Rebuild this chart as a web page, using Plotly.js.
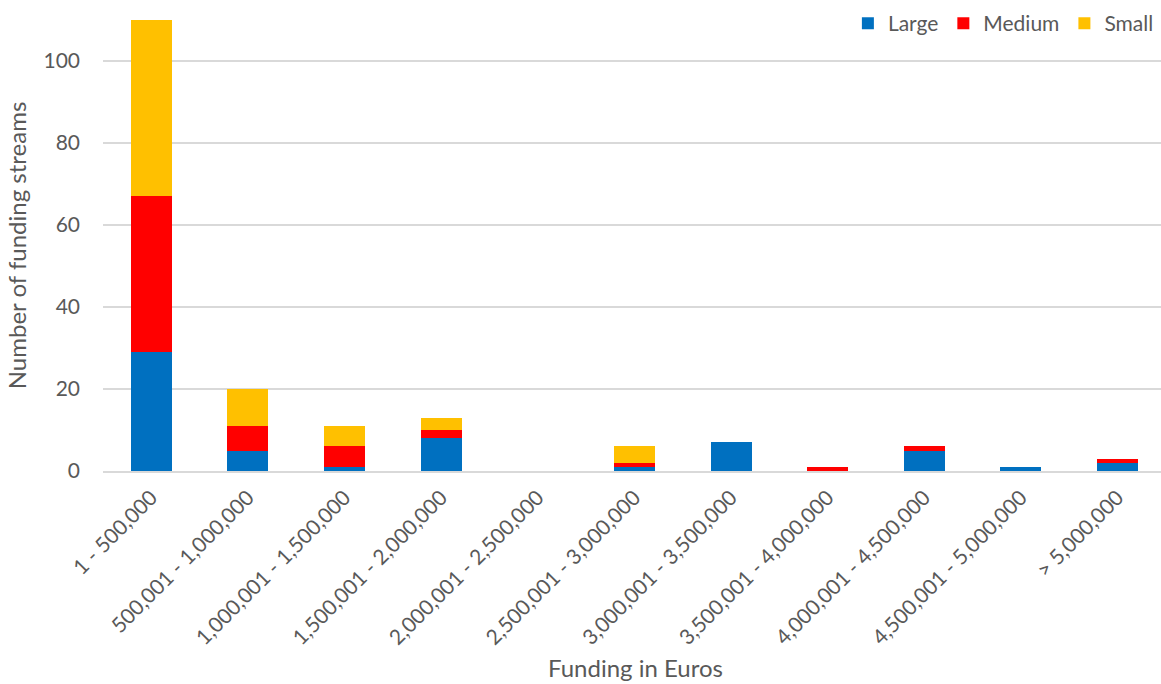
<!DOCTYPE html>
<html>
<head>
<meta charset="utf-8">
<script src="https://cdn.plot.ly/plotly-3.0.1.min.js"></script>
<style>html,body{margin:0;padding:0;background:#fff;}#chart{width:1161px;height:684px;}</style>
</head>
<body>
<div id="chart"></div>
<script>
const categories = ["1 - 500,000","500,001 - 1,000,000","1,000,001 - 1,500,000","1,500,001 - 2,000,000","2,000,001 - 2,500,000","2,500,001 - 3,000,000","3,000,001 - 3,500,000","3,500,001 - 4,000,000","4,000,001 - 4,500,000","4,500,001 - 5,000,000","> 5,000,000"];
const large  = [29, 5, 1, 8, 0, 1, 7, 0, 5, 1, 2];
const medium = [38, 6, 5, 2, 0, 1, 0, 1, 1, 0, 1];
const small  = [43, 9, 5, 3, 0, 4, 0, 0, 0, 0, 0];
const yTicks = [0, 20, 40, 60, 80, 100];
const xTitle = "Funding in Euros";
const yTitle = "Number of funding streams";

const font = "Lato, 'Open Sans', sans-serif";
const grey = "#595959";
function mk(name, y, color){
  return {type:"bar", name:name, x:categories, y:y, marker:{color:color, line:{width:0}}, hoverinfo:"y"};
}
const data = [mk("Large", large, "#0070C0"), mk("Medium", medium, "#FF0000"), mk("Small", small, "#FFC000")];
const layout = {
  width:1161, height:684,
  margin:{l:103, r:0, t:20, b:213},
  barmode:"stack", bargap:0.575,
  paper_bgcolor:"#fff", plot_bgcolor:"#fff",
  font:{family:font, size:21, color:grey},
  showlegend:true,
  legend:{orientation:"h", x:0.998, xanchor:"right", y:0.992, yanchor:"middle", font:{family:font, size:21, color:grey}, traceorder:"normal", itemwidth:30, bgcolor:"rgba(0,0,0,0)"},
  xaxis:{type:"category", range:[-0.5, 10.45], tickangle:-45, showgrid:false, showline:true, linecolor:"#d9d9d9", linewidth:2, ticks:"", zeroline:false,
         tickfont:{family:font, size:21, color:grey}, ticklabelstandoff:4},
  yaxis:{range:[0,110], tickvals:yTicks, showgrid:true, gridcolor:"#d9d9d9", gridwidth:1.5, zeroline:false, showline:false, ticks:"",
         tickfont:{family:font, size:21, color:grey}, ticklabelstandoff:22,
         title:{text:yTitle, font:{family:font, size:24, color:grey}, standoff:10}},
  annotations:[{text:xTitle, xref:"paper", yref:"paper", x:0.503, y:-0.4368, xanchor:"center", yanchor:"middle", showarrow:false, font:{family:font, size:24, color:grey}}]
};
Plotly.newPlot("chart", data, layout, {staticPlot:true, displayModeBar:false});
</script>
</body>
</html>
